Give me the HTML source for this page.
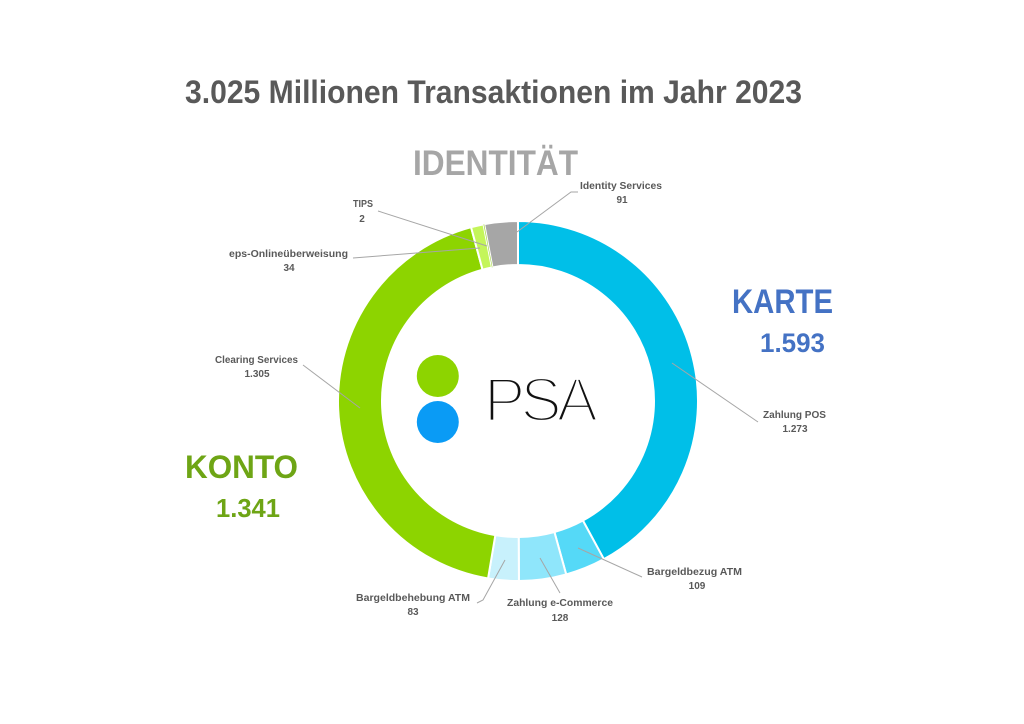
<!DOCTYPE html>
<html>
<head>
<meta charset="utf-8">
<style>
html,body{margin:0;padding:0;background:#fff;}
svg{display:block;}
text{font-family:"Liberation Sans",sans-serif;}
</style>
</head>
<body>
<svg width="1024" height="724" viewBox="0 0 1024 724" xmlns="http://www.w3.org/2000/svg">
<rect width="1024" height="724" fill="#fff"/>

<!-- Title -->
<text x="185" y="103" font-size="32" font-weight="bold" fill="#595959" textLength="617" lengthAdjust="spacingAndGlyphs">3.025 Millionen Transaktionen im Jahr 2023</text>

<!-- Group headings -->
<text x="413" y="175" font-size="35" font-weight="bold" fill="#a6a6a6" textLength="165" lengthAdjust="spacingAndGlyphs">IDENTITÄT</text>
<text x="732" y="313" font-size="34" font-weight="bold" fill="#4472c4" textLength="101" lengthAdjust="spacingAndGlyphs">KARTE</text>
<text x="760" y="352" font-size="27" font-weight="bold" fill="#4472c4" textLength="65" lengthAdjust="spacingAndGlyphs">1.593</text>
<text x="185" y="478" font-size="32" font-weight="bold" fill="#6ea515" textLength="113" lengthAdjust="spacingAndGlyphs">KONTO</text>
<text x="216" y="517" font-size="26" font-weight="bold" fill="#6ea515" textLength="64" lengthAdjust="spacingAndGlyphs">1.341</text>

<!-- Donut -->
<g stroke="#fff" stroke-width="2" stroke-linejoin="miter">
  <path d="M518,221 A180,180 0 0 1 603.89,559.19 L582.89,520.52 A136,136 0 0 0 518,265 Z" fill="#00bfe8"/>
  <path d="M603.89,559.19 A180,180 0 0 1 566.19,574.43 L554.41,532.03 A136,136 0 0 0 582.89,520.52 Z" fill="#55d9f7"/>
  <path d="M566.19,574.43 A180,180 0 0 1 518.94,581 L518.71,537 A136,136 0 0 0 554.41,532.03 Z" fill="#8fe6fb"/>
  <path d="M518.94,581 A180,180 0 0 1 488.04,578.49 L495.36,535.10 A136,136 0 0 0 518.71,537 Z" fill="#c8f1fc"/>
  <path d="M488.04,578.49 A180,180 0 0 1 471.07,227.22 L482.54,269.70 A136,136 0 0 0 495.36,535.10 Z" fill="#8dd400"/>
  <path d="M471.07,227.22 A180,180 0 0 1 483.47,224.34 L491.91,267.53 A136,136 0 0 0 482.54,269.70 Z" fill="#c4f55a"/>
  <path d="M484.21,224.20 A180,180 0 0 1 518,221 L518,265 A136,136 0 0 0 492.47,267.42 Z" fill="#a6a6a6"/>
</g>
<path d="M483.47,224.34 A180,180 0 0 1 484.21,224.20 L492.47,267.42 A136,136 0 0 0 491.91,267.53 Z" fill="#a8d84a"/>

<!-- Leader lines -->
<g stroke="#a6a6a6" stroke-width="1" fill="none">
  <polyline points="517,232 571,192 578,192"/>
  <polyline points="378,211 487,246"/>
  <polyline points="353,258 480,248"/>
  <polyline points="303,365 360,408"/>
  <polyline points="672,363 758,422"/>
  <polyline points="578,548 642,577"/>
  <polyline points="540,558 560,593"/>
  <polyline points="505,560 483,600 477,603"/>
</g>

<!-- Labels -->
<g font-size="10" font-weight="bold" fill="#595959" text-anchor="middle">
  <text x="621" y="189" textLength="82" lengthAdjust="spacingAndGlyphs">Identity Services</text>
  <text x="622" y="203">91</text>
  <text x="363" y="207" textLength="20" lengthAdjust="spacingAndGlyphs">TIPS</text>
  <text x="362" y="222">2</text>
  <text x="288.5" y="257" textLength="119" lengthAdjust="spacingAndGlyphs">eps-Onlineüberweisung</text>
  <text x="289" y="271">34</text>
  <text x="256.5" y="363" textLength="83" lengthAdjust="spacingAndGlyphs">Clearing Services</text>
  <text x="257" y="377">1.305</text>
  <text x="794.5" y="418" textLength="63" lengthAdjust="spacingAndGlyphs">Zahlung POS</text>
  <text x="795" y="432">1.273</text>
  <text x="694.5" y="575" textLength="95" lengthAdjust="spacingAndGlyphs">Bargeldbezug ATM</text>
  <text x="697" y="589">109</text>
  <text x="560" y="606" textLength="106" lengthAdjust="spacingAndGlyphs">Zahlung e-Commerce</text>
  <text x="560" y="621">128</text>
  <text x="413" y="601" textLength="114" lengthAdjust="spacingAndGlyphs">Bargeldbehebung ATM</text>
  <text x="413" y="615">83</text>
</g>

<!-- PSA logo -->
<circle cx="437.8" cy="376" r="21" fill="#8dd400"/>
<circle cx="437.8" cy="422" r="21" fill="#0a9bf5"/>
<text x="484" y="421" font-size="62" fill="#111" stroke="#fff" stroke-width="3.2" textLength="114" lengthAdjust="spacing">PSA</text>
</svg>
</body>
</html>
